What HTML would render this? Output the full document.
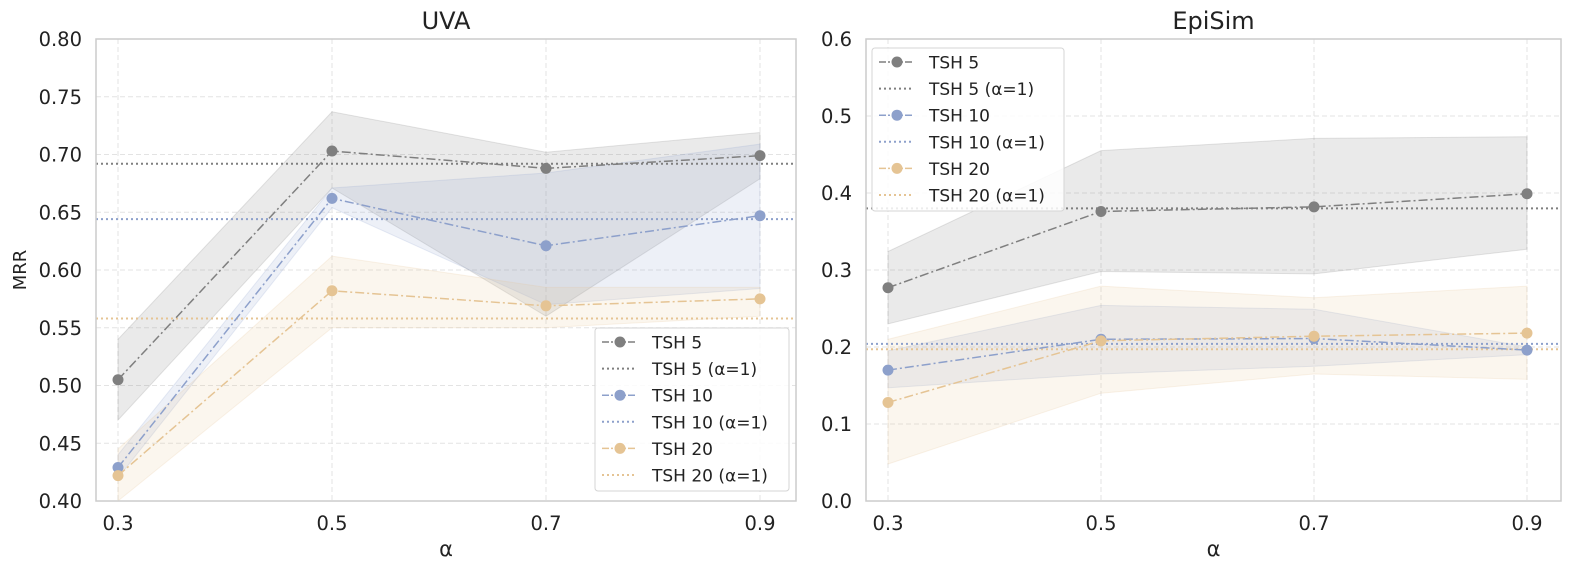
<!DOCTYPE html>
<html><head><meta charset="utf-8">
<style>
html,body{margin:0;padding:0;background:#fff;}
svg{display:block;font-family:"DejaVu Sans","Liberation Sans",sans-serif;}
</style></head>
<body>
<svg id="chart" width="1577" height="573" viewBox="0 0 1577 573" xmlns="http://www.w3.org/2000/svg"></svg>
<script>
const alphas = [0.3, 0.5, 0.7, 0.9];
const seriesNames = ["TSH 5", "TSH 10", "TSH 20"];
const uvaMean5 = [0.505, 0.703, 0.688, 0.699];
const uvaLo5 = [0.470, 0.671, 0.560, 0.679];
const uvaHi5 = [0.540, 0.737, 0.702, 0.719];
const uvaMean10 = [0.429, 0.662, 0.621, 0.647];
const uvaLo10 = [0.420, 0.654, 0.570, 0.584];
const uvaHi10 = [0.440, 0.671, 0.684, 0.709];
const uvaMean20 = [0.422, 0.582, 0.569, 0.575];
const uvaLo20 = [0.400, 0.550, 0.550, 0.560];
const uvaHi20 = [0.445, 0.612, 0.585, 0.585];
const uvaBase = [0.692, 0.644, 0.558];
const epiMean5 = [0.277, 0.376, 0.382, 0.399];
const epiLo5 = [0.230, 0.298, 0.295, 0.327];
const epiHi5 = [0.324, 0.455, 0.471, 0.473];
const epiMean10 = [0.170, 0.210, 0.211, 0.196];
const epiLo10 = [0.147, 0.165, 0.175, 0.190];
const epiHi10 = [0.195, 0.254, 0.249, 0.200];
const epiMean20 = [0.128, 0.208, 0.214, 0.218];
const epiLo20 = [0.048, 0.140, 0.165, 0.158];
const epiHi20 = [0.210, 0.279, 0.264, 0.279];
const epiBase = [0.380, 0.204, 0.197];
const uvaTicks = [0.40, 0.45, 0.50, 0.55, 0.60, 0.65, 0.70, 0.75, 0.80];
const epiTicks = [0.0, 0.1, 0.2, 0.3, 0.4, 0.5, 0.6];

const colors = ["#7f7f7f", "#8da0cb", "#e5c494"];
const NS = "http://www.w3.org/2000/svg";
const svg = document.getElementById("chart");
function mk(tag, attrs, parent) {
  const e = document.createElementNS(NS, tag);
  for (const k in attrs) e.setAttribute(k, attrs[k]);
  (parent || svg).appendChild(e);
  return e;
}

function panel(cfg) {
  const g = mk("g", {});
  
  
  const x = v => cfg.x03 + (v - 0.3) / 0.6 * (cfg.x09 - cfg.x03);
  const y = v => cfg.top + (cfg.yMax - v) / (cfg.yMax - cfg.yMin) * (cfg.bot - cfg.top);
  cfg.ticks.forEach(t => {
    const l = mk("line", {x1: cfg.left, x2: cfg.right, y1: y(t), y2: y(t), stroke: "#e3e3e3", "stroke-width": 1, "stroke-dasharray": "5,3"}, g);
    
    
    const tx = mk("text", {x: cfg.left - 14, y: y(t) + 7, "text-anchor": "end", "font-size": 19.5, fill: "#222"}, g);
    tx.textContent = t.toFixed(cfg.dec);
    
    
  });
  alphas.forEach(a => {
    const l = mk("line", {x1: x(a), x2: x(a), y1: cfg.top, y2: cfg.bot, stroke: "#e3e3e3", "stroke-width": 1, "stroke-dasharray": "5,3"}, g);
    
    
    const tx = mk("text", {x: x(a), y: cfg.bot + 29, "text-anchor": "middle", "font-size": 19.5, fill: "#222"}, g);
    tx.textContent = a.toFixed(1);
    
    
  });
  cfg.series.forEach((s, i) => {
    let d = "M" + alphas.map((a, j) => x(a) + "," + y(s.hi[j])).join(" L");
    d += " L" + alphas.slice().reverse().map((a, jj) => { const j = alphas.length - 1 - jj; return x(a) + "," + y(s.lo[j]); }).join(" L") + " Z";
    const p = mk("path", {d: d, fill: colors[i], "fill-opacity": 0.16, stroke: colors[i], "stroke-opacity": 0.2}, g);
    
    
  });
  cfg.base.forEach((b, i) => {
    const l = mk("line", {x1: cfg.left, x2: cfg.right, y1: y(b), y2: y(b), stroke: colors[i], "stroke-width": 2, "stroke-dasharray": "2,3"}, g);
    
    
  });
  cfg.series.forEach((s, i) => {
    const pts = alphas.map((a, j) => x(a) + "," + y(s.mean[j])).join(" ");
    const pl = mk("polyline", {points: pts, fill: "none", stroke: colors[i], "stroke-width": 1.5, "stroke-dasharray": "9,3,2,3"}, g);
    
    
    alphas.forEach((a, j) => {
      const c = mk("circle", {cx: x(a), cy: y(s.mean[j]), r: 5.5, fill: colors[i]}, g);
      
      
    });
  });
  const fr = mk("rect", {x: cfg.left, y: cfg.top, width: cfg.right - cfg.left, height: cfg.bot - cfg.top, fill: "none", stroke: "#cccccc", "stroke-width": 1.5}, g);
  
  
  const tt = mk("text", {x: (cfg.left + cfg.right) / 2, y: 29, "text-anchor": "middle", "font-size": 24, fill: "#222"}, g);
  tt.textContent = cfg.title;
  
  
  const xl = mk("text", {x: (cfg.left + cfg.right) / 2, y: 556, "text-anchor": "middle", "font-size": 21, fill: "#222"}, g);
  xl.textContent = "α";
  
  
  const lg = mk("g", {}, g);
  
  
  const lr = mk("rect", {x: cfg.lx, y: cfg.ly, width: cfg.lw, height: 163, rx: 3, fill: "#fff", "fill-opacity": 0.85, stroke: "#d5d5d5"}, lg);
  
  
  const labels = ["TSH 5", "TSH 5 (α=1)", "TSH 10", "TSH 10 (α=1)", "TSH 20", "TSH 20 (α=1)"];
  labels.forEach((lab, k) => {
    const i = Math.floor(k / 2), cy = cfg.ly + 14 + k * 26.6;
    const en = mk("g", {}, lg);
    
    
    if (k % 2 === 0) {
      mk("line", {x1: cfg.lx + 7, x2: cfg.lx + 42, y1: cy, y2: cy, stroke: colors[i], "stroke-width": 1.5, "stroke-dasharray": "7,2,2,2"}, en);
      mk("circle", {cx: cfg.lx + 25, cy: cy, r: 5.5, fill: colors[i]}, en);
    } else {
      mk("line", {x1: cfg.lx + 7, x2: cfg.lx + 42, y1: cy, y2: cy, stroke: colors[i], "stroke-width": 2, "stroke-dasharray": "2,3"}, en);
    }
    const t = mk("text", {x: cfg.lx + 57, y: cy + 6.5, "font-size": 17, fill: "#222"}, en);
    t.textContent = lab;
  });
}

panel({name: "uva", title: "UVA", left: 96, right: 796, top: 39, bot: 501, x03: 118, x09: 760,
  yMax: 0.80, yMin: 0.40, ticks: uvaTicks, dec: 2, base: uvaBase, lx: 595, ly: 328, lw: 194,
  series: [{mean: uvaMean5, lo: uvaLo5, hi: uvaHi5}, {mean: uvaMean10, lo: uvaLo10, hi: uvaHi10}, {mean: uvaMean20, lo: uvaLo20, hi: uvaHi20}]});
panel({name: "episim", title: "EpiSim", left: 866, right: 1561, top: 39, bot: 501, x03: 888, x09: 1527,
  yMax: 0.6, yMin: 0.0, ticks: epiTicks, dec: 1, base: epiBase, lx: 872, ly: 48, lw: 192,
  series: [{mean: epiMean5, lo: epiLo5, hi: epiHi5}, {mean: epiMean10, lo: epiLo10, hi: epiHi10}, {mean: epiMean20, lo: epiLo20, hi: epiHi20}]});

const yl = mk("text", {x: 26, y: 270, "text-anchor": "middle", "font-size": 18, fill: "#222", transform: "rotate(-90 26 270)"});
yl.textContent = "MRR";


</script>
</body></html>
